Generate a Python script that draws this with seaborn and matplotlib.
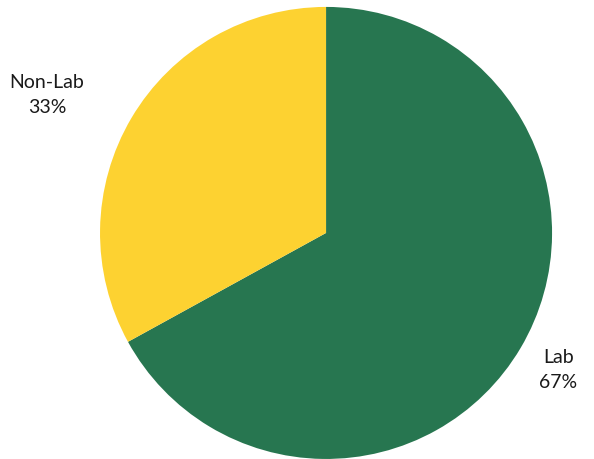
import numpy as np
import matplotlib
matplotlib.use("Agg")
import matplotlib.pyplot as plt
import seaborn as sns

sns.set_theme(style="white")
plt.rcParams["font.family"] = ["Lato", "DejaVu Sans"]

categories = ["Lab", "Non-Lab"]
shares = [67, 33]
colors = ["#277650", "#FDD231"]
# label anchor points, in units of the pie radius
label_xy = [(1.027, -0.606), (-1.235, 0.611)]

fig = plt.figure(figsize=(5.94, 4.59), dpi=100)
ax = fig.add_axes([0.1684, 0.0, 0.761, 0.985])

wedges, texts = ax.pie(
    shares,
    labels=[f"{c}\n{s}%" for c, s in zip(categories, shares)],
    colors=colors,
    startangle=90,
    counterclock=False,
    wedgeprops={"linewidth": 0, "edgecolor": "none"},
    textprops={"fontsize": 14, "color": "#1a1a1a", "ha": "center", "va": "center",
               "linespacing": 1.55},
)
for t, xy in zip(texts, label_xy):
    t.set_position(xy)
    t.set_ha("center")
    t.set_va("center")

ax.set_xlim(-1, 1)
ax.set_ylim(-1, 1)
ax.set_aspect("equal")
ax.axis("off")

fig.savefig("out.png", dpi=100)
